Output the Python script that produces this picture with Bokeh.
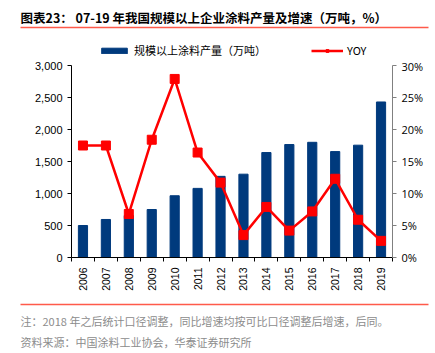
import math
from bokeh.plotting import figure
from bokeh.layouts import column
from bokeh.models import (Range1d, LinearAxis, FixedTicker, NumeralTickFormatter,
                          PrintfTickFormatter, Legend, LegendItem)
from bokeh.core.properties import value
from bokeh.embed import file_html
from bokeh.resources import INLINE

years = ["2006", "2007", "2008", "2009", "2010", "2011", "2012", "2013",
         "2014", "2015", "2016", "2017", "2018", "2019"]
output = [500, 594, 655, 750, 965, 1080, 1268, 1302, 1640, 1765, 1800, 1655, 1755, 2430]
yoy = [17.5, 17.5, 6.8, 18.4, 27.9, 16.4, 11.7, 3.5, 7.9, 4.2, 7.2, 12.3, 5.9, 2.6]
left_ticks = [0, 500, 1000, 1500, 2000, 2500, 3000]
right_ticks = [0, 5, 10, 15, 20, 25, 30]

title_text = "图表23：  07-19 年我国规模以上企业涂料产量及增速（万吨，%）"
bar_label = "规模以上涂料产量（万吨）"
line_label = "YOY"
note_text = "注：2018 年之后统计口径调整，同比增速均按可比口径调整后增速，后同。"
source_text = "资料来源：中国涂料工业协会，华泰证券研究所"

NAVY = "#003a7d"
RED = "#ff0000"
RULE = "#ff5a4a"
CJK = "Noto Sans CJK SC"
LAT = "Liberation Sans"
W = 435
NAN = float("nan")


def blank(h):
    f = figure(width=W, height=h, output_backend="svg", toolbar_location=None,
               x_range=Range1d(0, W), y_range=Range1d(h, 0),
               x_axis_location=None, y_axis_location=None,
               min_border=0, outline_line_color=None)
    f.frame_align = False
    f.grid.visible = False
    return f


# ---- header: title, rule, legend ----
top = blank(58)
top.text(x=[20], y=[17], text=[title_text], text_font=value(CJK), text_font_style="bold",
         text_font_size="12.5px", text_baseline="middle", text_color="#000000")
top.segment(x0=[20], y0=[27], x1=[428], y1=[27], line_color=RULE, line_width=1.5)
# legend proxies (no visible data, only used for the legend swatches)
pb = top.vbar(x=[NAN], top=[NAN], width=1, fill_color=NAVY, line_color=NAVY)
pl = top.line(x=[NAN], y=[NAN], line_color=RED, line_width=2.5)
pm = top.scatter(x=[NAN], y=[NAN], marker="square", size=9, fill_color=RED, line_color=RED)
legend = Legend(items=[LegendItem(label=bar_label, renderers=[pb]),
                       LegendItem(label=line_label, renderers=[pl, pm])],
                orientation="horizontal", location=(98, 0),
                glyph_width=32, glyph_height=7, spacing=45, padding=0, margin=0,
                label_standoff=4, border_line_color=None, background_fill_alpha=0,
                label_text_font=CJK, label_text_font_size="11px", label_text_color="#000000",
                label_height=14)
top.add_layout(legend, "center")

# ---- main chart ----
xs = list(range(len(years)))
p = figure(width=W, height=242, output_backend="svg", toolbar_location=None,
           x_range=Range1d(-0.5, len(years) - 0.5), y_range=Range1d(0, 3000),
           min_border_left=71, min_border_right=43, min_border_top=7, min_border_bottom=43,
           outline_line_color=None)
p.frame_align = False
p.extra_y_ranges = {"pct": Range1d(0, 30)}
p.xgrid.visible = False
p.ygrid.visible = False

p.vbar(x=xs, top=output, width=0.4, fill_color=NAVY, line_color=NAVY)
p.line(x=xs, y=yoy, y_range_name="pct", line_color=RED, line_width=2.5)
p.scatter(x=xs, y=yoy, y_range_name="pct", marker="square", size=9,
          fill_color=RED, line_color=RED)

xa = p.xaxis[0]
xa.ticker = FixedTicker(ticks=xs, minor_ticks=[i - 0.5 for i in range(len(years) + 1)])
xa.major_label_overrides = {i: y for i, y in enumerate(years)}
xa.major_label_orientation = math.pi / 2
xa.major_tick_line_color = None
xa.minor_tick_in = 0
xa.minor_tick_out = 4
xa.minor_tick_line_color = "#000000"
xa.axis_line_color = "#000000"
xa.major_label_text_font = LAT
xa.major_label_text_font_size = "10.5px"
xa.major_label_text_color = "#000000"
xa.major_label_standoff = 4

ya = p.yaxis[0]
ya.ticker = FixedTicker(ticks=left_ticks)
ya.formatter = NumeralTickFormatter(format="0,0")
ya.minor_tick_line_color = None
ya.major_tick_in = 0
ya.major_tick_out = 4
ya.axis_line_color = "#000000"
ya.major_tick_line_color = "#000000"
ya.major_label_text_font = LAT
ya.major_label_text_font_size = "11px"
ya.major_label_text_color = "#000000"
ya.major_label_standoff = 5

ra = LinearAxis(y_range_name="pct", ticker=FixedTicker(ticks=right_ticks),
                formatter=PrintfTickFormatter(format="%d%%"))
ra.minor_tick_line_color = None
ra.major_tick_in = 0
ra.major_tick_out = 4
ra.axis_line_color = "#808080"
ra.major_tick_line_color = "#808080"
ra.major_label_text_font = "Open Sans"
ra.major_label_text_font_size = "11px"
ra.major_label_text_color = "#000000"
ra.major_label_standoff = 5
p.add_layout(ra, "right")

# ---- footer: rule, note, source ----
bot = blank(53)
bot.segment(x0=[20], y0=[4], x1=[428], y1=[4], line_color=RULE, line_width=1.5)
bot.text(x=[20, 20], y=[20, 41], text=[note_text, source_text], text_font=value(CJK),
         text_font_size="11px", text_baseline="middle", text_color="#8c8c8c")

layout = column(top, p, bot, spacing=0)
open("out.html", "w").write(file_html(layout, INLINE))
